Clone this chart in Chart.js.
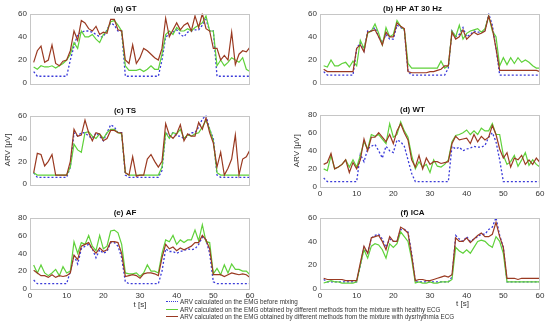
<!DOCTYPE html>
<html>
<head>
<meta charset="utf-8">
<script src="https://cdn.jsdelivr.net/npm/chart.js@4.4.1/dist/chart.umd.min.js"></script>
<style>
body { margin: 0; background: #fff; width: 550px; height: 326px; position: relative; overflow: hidden; font-family: "Liberation Sans", Arial, sans-serif; }
canvas { position: absolute; }
#legend { position: absolute; left: 166px; top: 298px; font-size: 6.3px; color: #333; }
.row { display: flex; align-items: center; height: 7.6px; white-space: nowrap; }
.sw { width: 12px; height: 0; margin-right: 2px; border-top: 1.2px solid; }
#tlabel { position: absolute; left: 456px; top: 299px; font-size: 8px; color: #333; line-height: 10px; }
</style>
</head>
<body>
<canvas id="pa" width="262" height="91" style="left:0px;top:0px"></canvas>
<canvas id="pb" width="265" height="91" style="left:285px;top:0px"></canvas>
<canvas id="pc" width="262" height="90" style="left:0px;top:102px"></canvas>
<canvas id="pd" width="265" height="100" style="left:285px;top:101px"></canvas>
<canvas id="pe" width="262" height="109" style="left:0px;top:204px"></canvas>
<canvas id="pf" width="265" height="109" style="left:285px;top:204px"></canvas>
<div id="tlabel">t [s]</div>
<div id="legend">
  <div class="row"><span class="sw" style="border-top:1.2px dotted #3b3bd9"></span>ARV calculated on the EMG before mixing</div>
  <div class="row"><span class="sw" style="border-color:#5fd13a"></span>ARV calculated on the EMG obtained by different methods from the mixture with healthy ECG</div>
  <div class="row"><span class="sw" style="border-color:#9a3a22"></span>ARV calculated on the EMG obtained by different methods from the mixture with dysrhythmia ECG</div>
</div>
<script>
"use strict";
// time stamps [s]
var t = [1,2,3,4,5,6,7,8,9,10,11,12,13,14,15,16,17,18,19,20,21,22,23,24,25,26,27,28,29,30,
         31,32,33,34,35,36,37,38,39,40,41,42,43,44,45,46,47,48,49,50,51,52,53,54,55,56,57,58,59,60];
var xTicks = [0,10,20,30,40,50,60];
var seriesNames = [
    "ARV calculated on the EMG before mixing",
    "ARV calculated on the EMG obtained by different methods from the mixture with healthy ECG",
    "ARV calculated on the EMG obtained by different methods from the mixture with dysrhythmia ECG"
];

// (a) GT
var gtRef = [10,6,6,6,6,6,6,6,6,6,20,32,42,44,45,45,44,42,40,40,46,52,50,45,45,6,6,6,6,6,
             6,6,6,6,6,20,40,42,44,46,42,40,44,45,46,46,50,55,45,45,6,6,6,6,6,6,6,6,6,6];
var gtHealthy = [14,12,15,14,14,15,13,15,17,20,25,35,30,45,40,40,42,38,35,42,45,53,54,50,45,15,11,11,11,12,
                 10,12,15,12,12,25,42,45,42,48,45,45,47,45,48,50,52,58,45,45,15,20,15,18,22,20,18,22,12,10];
var gtDys = [18,28,32,18,20,33,17,15,19,20,28,45,37,54,52,47,45,49,42,44,43,55,55,46,45,20,17,33,17,22,
             30,28,25,22,20,30,56,40,46,52,46,50,52,45,58,48,60,47,45,30,30,20,24,20,44,16,25,28,27,31];

// (b) HP AT 30 Hz
var hpRef = [10,7,7,7,7,7,7,7,7,30,35,28,45,45,48,40,35,42,38,38,50,48,46,10,7,7,7,7,7,7,
             7,7,7,7,13,45,40,42,48,40,42,45,44,44,45,60,50,30,7,7,7,7,7,7,7,7,7,7,7,7];
var hpHealthy = [15,14,20,15,15,17,18,14,19,15,37,30,43,45,51,43,33,48,40,42,54,49,46,17,13,13,13,13,13,13,
                 13,13,19,13,15,45,40,50,38,43,45,46,47,44,47,58,45,40,15,22,16,22,17,22,18,20,18,15,13,13];
var hpDys = [12,10,10,10,10,10,10,10,10,30,33,27,44,45,46,40,33,44,40,40,52,49,47,10,9,9,9,9,9,10,
             10,11,12,15,15,44,38,40,46,38,41,44,42,43,45,58,47,30,11,11,11,11,11,11,11,11,11,11,11,10];

// (c) TS
var tsRef = [10,6,6,6,6,6,6,6,6,6,15,45,42,45,45,42,40,45,42,38,45,52,50,45,45,8,6,6,6,6,
             6,6,6,6,6,12,45,42,45,42,42,40,42,45,45,50,57,60,48,40,8,6,6,6,6,6,6,6,6,6];
var tsHealthy = [10,8,8,8,8,8,8,8,8,8,15,35,30,28,45,46,42,40,44,40,45,48,48,45,44,10,8,8,8,8,
                 8,8,8,8,8,15,45,40,45,44,48,40,43,42,44,45,50,56,48,38,10,8,8,8,8,8,8,8,8,8];
var tsDys = [10,27,26,16,20,26,8,8,8,8,20,48,42,43,56,45,38,45,44,38,40,47,47,45,45,10,8,24,7,8,
             8,22,26,20,15,20,53,43,40,44,52,38,44,42,42,54,48,58,45,36,15,28,8,14,22,43,8,22,24,30];

// (d) WT
var wtRef = [10,6,6,6,6,6,6,6,6,6,36,28,42,45,47,40,32,45,40,38,52,50,45,30,15,6,6,6,6,6,
             6,6,6,6,6,45,42,44,40,42,43,45,44,44,46,55,60,50,30,6,6,6,6,6,6,6,6,6,6,6];
var wtHealthy = [20,18,35,20,22,25,30,22,30,22,35,50,42,58,56,58,53,48,70,55,58,72,62,55,35,20,28,22,25,16,
                 30,23,22,25,30,50,57,58,60,63,58,62,58,65,62,62,70,58,58,35,25,28,35,23,30,38,24,30,25,22];
var wtDys = [25,27,37,20,22,25,30,16,27,20,30,53,40,55,55,60,55,50,58,48,62,70,60,52,30,22,35,20,32,25,
             28,28,26,27,28,48,56,52,53,54,48,58,50,56,52,55,68,58,42,32,38,22,32,30,35,25,30,25,32,27];

// (e) AF
var afRef = [10,6,6,6,6,6,6,6,6,6,20,38,28,45,48,50,45,35,44,40,42,52,52,48,35,8,6,6,6,6,
             6,6,6,6,6,20,45,42,42,40,42,43,45,44,45,50,58,55,40,8,6,6,6,6,6,6,6,6,6,6];
var afHealthy = [27,18,27,18,15,18,22,15,25,18,20,53,40,52,50,60,48,43,60,45,48,65,66,63,50,18,17,17,18,14,
                 18,27,20,20,18,40,55,53,60,50,55,52,55,55,66,54,72,53,52,17,23,16,27,18,28,22,22,20,20,16];
var afDys = [21,18,15,15,13,16,13,15,14,15,18,38,33,48,50,52,45,40,46,42,44,53,53,52,40,14,15,16,15,12,
             17,18,18,17,15,35,50,45,47,43,46,44,46,48,52,52,60,55,45,16,16,16,14,16,18,17,16,17,16,13];

// (f) ICA
var icaRef = [8,6,6,6,6,6,6,6,6,6,20,35,30,43,45,46,42,35,42,40,40,50,50,48,30,6,6,6,6,6,
              6,6,6,6,6,10,45,42,40,44,40,42,44,46,46,50,52,60,45,35,6,6,6,6,6,6,6,6,6,6];
var icaHealthy = [5,6,7,6,6,5,5,5,5,6,20,33,26,36,38,37,33,26,38,35,38,48,44,40,25,5,6,5,5,6,
                  5,5,6,6,6,8,35,32,30,33,30,35,40,41,40,37,35,44,40,30,6,6,6,6,6,6,6,6,6,6];
var icaDys = [9,8,8,8,8,8,7,7,7,7,22,36,30,43,44,45,40,33,44,40,40,52,50,47,28,7,8,8,7,7,
              8,9,10,11,10,12,43,40,40,43,39,42,45,47,44,44,46,56,44,35,9,9,9,8,9,9,9,9,9,9];

var fontFamily = '"Liberation Sans", Arial, sans-serif';
var tickColor = '#333';

var boxPlugin = {
    id: 'box',
    afterDraw: function (chart) {
        var a = chart.chartArea;
        var ctx = chart.ctx;
        ctx.save();
        ctx.strokeStyle = '#c6c6c6';
        ctx.lineWidth = 1;
        ctx.strokeRect(Math.round(a.left) + 0.5, Math.round(a.top) + 0.5,
            Math.round(a.right - a.left) - 1, Math.round(a.bottom - a.top));
        ctx.restore();
    }
};

function toPoints(values) {
    return values.map(function (v, i) { return { x: t[i], y: v }; });
}

function MakePanel(canvasId, title, ref, healthy, dys, yMax, opts) {
    var ctx = document.getElementById(canvasId);
    return new Chart(ctx, {
        type: 'line',
        data: {
            datasets: [{
                label: seriesNames[0],
                data: toPoints(ref),
                borderColor: '#3b3bd9',
                borderDash: [2, 2],
                borderWidth: 1.3,
                order: 2
            }, {
                label: seriesNames[1],
                data: toPoints(healthy),
                borderColor: '#5fd13a',
                borderWidth: 1.2,
                order: 1
            }, {
                label: seriesNames[2],
                data: toPoints(dys),
                borderColor: '#9a3a22',
                borderWidth: 1.2,
                order: 0
            }]
        },
        options: {
            responsive: false,
            animation: false,
            devicePixelRatio: 1,
            elements: { point: { radius: 0 }, line: { tension: 0 } },
            layout: { padding: { left: 0, right: opts.padRight, top: 0, bottom: 0 } },
            plugins: {
                legend: { display: false },
                tooltip: { enabled: false },
                title: {
                    display: true,
                    text: title,
                    color: '#111',
                    font: { family: fontFamily, size: 8, weight: 'bold' },
                    padding: { top: 4, bottom: 0 }
                }
            },
            scales: {
                x: {
                    type: 'linear',
                    min: 0,
                    max: 60,
                    afterBuildTicks: function (scale) {
                        scale.ticks = xTicks.map(function (v) { return { value: v }; });
                    },
                    afterFit: function (scale) { scale.height = opts.xHeight; },
                    grid: { display: false, drawTicks: false },
                    border: { display: false },
                    ticks: {
                        display: opts.xLabels,
                        color: tickColor,
                        padding: 2,
                        maxRotation: 0,
                        font: { family: fontFamily, size: 8 }
                    },
                    title: {
                        display: opts.xTitle,
                        text: 't [s]',
                        color: tickColor,
                        padding: { top: 0, bottom: 3 },
                        font: { family: fontFamily, size: 8 }
                    }
                },
                y: {
                    min: 0,
                    max: yMax,
                    afterFit: function (scale) { scale.width = opts.yWidth; },
                    grid: { display: false, drawTicks: false },
                    border: { display: false },
                    ticks: {
                        stepSize: 20,
                        color: tickColor,
                        padding: 3,
                        font: { family: fontFamily, size: 8 }
                    },
                    title: {
                        display: opts.yTitle,
                        text: 'ARV [\u03bcV]',
                        color: tickColor,
                        padding: { top: opts.yTitlePad, bottom: 2 },
                        font: { family: fontFamily, size: 8 }
                    }
                }
            }
        },
        plugins: [boxPlugin]
    });
}

var leftCol = { padRight: 12, yWidth: 30, yTitlePad: 3 };
var rightCol = { padRight: 10, yWidth: 35, yTitlePad: 7 };

MakePanel('pa', '(a) GT', gtRef, gtHealthy, gtDys, 60,
    Object.assign({}, leftCol, { xHeight: 5, xLabels: false, xTitle: false, yTitle: false }));
MakePanel('pb', '(b) HP AT 30 Hz', hpRef, hpHealthy, hpDys, 60,
    Object.assign({}, rightCol, { xHeight: 5, xLabels: false, xTitle: false, yTitle: false }));
MakePanel('pc', '(c) TS', tsRef, tsHealthy, tsDys, 60,
    Object.assign({}, leftCol, { xHeight: 5, xLabels: false, xTitle: false, yTitle: true }));
MakePanel('pd', '(d) WT', wtRef, wtHealthy, wtDys, 80,
    Object.assign({}, rightCol, { xHeight: 14, xLabels: true, xTitle: false, yTitle: true }));
MakePanel('pe', '(e) AF', afRef, afHealthy, afDys, 80,
    Object.assign({}, leftCol, { xHeight: 24, xLabels: true, xTitle: true, yTitle: false }));
// the t [s] label of (f) sits off-centre (right of the legend), so it is a separate text element
MakePanel('pf', '(f) ICA', icaRef, icaHealthy, icaDys, 60,
    Object.assign({}, rightCol, { xHeight: 24, xLabels: true, xTitle: false, yTitle: false }));
</script>
</body>
</html>
